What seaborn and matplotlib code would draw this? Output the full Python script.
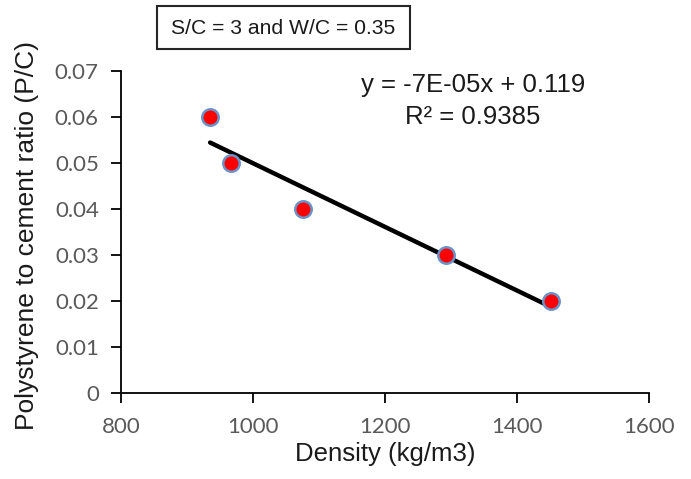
import numpy as np
import pandas as pd
import matplotlib
matplotlib.use("Agg")
import matplotlib.pyplot as plt
from matplotlib.patches import Rectangle
import seaborn as sns

# data
density = [935, 966, 1075, 1292, 1451]
pc_ratio = [0.06, 0.05, 0.04, 0.03, 0.02]
x_ticks = [800, 1000, 1200, 1400, 1600]
y_ticks = [0, 0.01, 0.02, 0.03, 0.04, 0.05, 0.06, 0.07]
y_tick_labels = ["0", "0.01", "0.02", "0.03", "0.04", "0.05", "0.06", "0.07"]
title = "S/C = 3 and W/C = 0.35"
equation = "y = -7E-05x + 0.119"
r_squared = "R² = 0.9385"

df = pd.DataFrame({"density": density, "pc": pc_ratio})

sns.set_style("ticks")
plt.rcParams["font.family"] = ["Liberation Sans", "DejaVu Sans"]

W, H = 691, 479
fig = plt.figure(figsize=(W / 100, H / 100), dpi=100)
ax = fig.add_axes([121 / W, 1 - 393 / H, 528 / W, 322 / H])

# linear trendline over the data range
sns.regplot(data=df, x="density", y="pc", ax=ax, scatter=False, ci=None,
            truncate=True, line_kws={"color": "black", "linewidth": 3.2})

sns.scatterplot(data=df, x="density", y="pc", ax=ax, s=140, color="#ff0000",
                edgecolor="#6b93c8", linewidth=1.8, zorder=3)

ax.set_xlim(800, 1600)
ax.set_ylim(0, 0.07)
ax.set_xticks(x_ticks)
ax.set_yticks(y_ticks)
ax.set_yticklabels(y_tick_labels)
for lbl in ax.get_xticklabels() + ax.get_yticklabels():
    lbl.set_fontfamily("Lato")
    lbl.set_fontsize(16)
    lbl.set_color("#595959")
ax.tick_params(axis="both", direction="out", length=7, width=1.3, color="black")
ax.tick_params(axis="y", pad=9)
ax.tick_params(axis="x", pad=10)

for side in ["left", "bottom"]:
    ax.spines[side].set_color("black")
    ax.spines[side].set_linewidth(1.3)
sns.despine(ax=ax)

ax.set_xlabel("Density (kg/m3)", fontsize=18.5, color="#1a1a1a", labelpad=4)
ax.set_ylabel("Polystyrene to cement ratio (P/C)", fontsize=19, color="#1a1a1a",
              labelpad=11)
ax.yaxis.label.set_y(0.49)

# boxed title
fig.patches.append(Rectangle((157 / W, 1 - 49 / H), 253 / W, 43 / H,
                             transform=fig.transFigure, facecolor="white",
                             edgecolor="#262626", linewidth=1.5))
fig.text(283 / W, 1 - 28 / H, title, ha="center", va="center", fontsize=15.2,
         color="#1a1a1a")

# trendline equation
fig.text(473 / W, 1 - 85 / H, equation, ha="center", va="center", fontsize=18.5,
         color="#1a1a1a")
fig.text(473 / W, 1 - 117 / H, r_squared, ha="center", va="center", fontsize=18.5,
         color="#1a1a1a")

fig.savefig("out.png", dpi=100)
